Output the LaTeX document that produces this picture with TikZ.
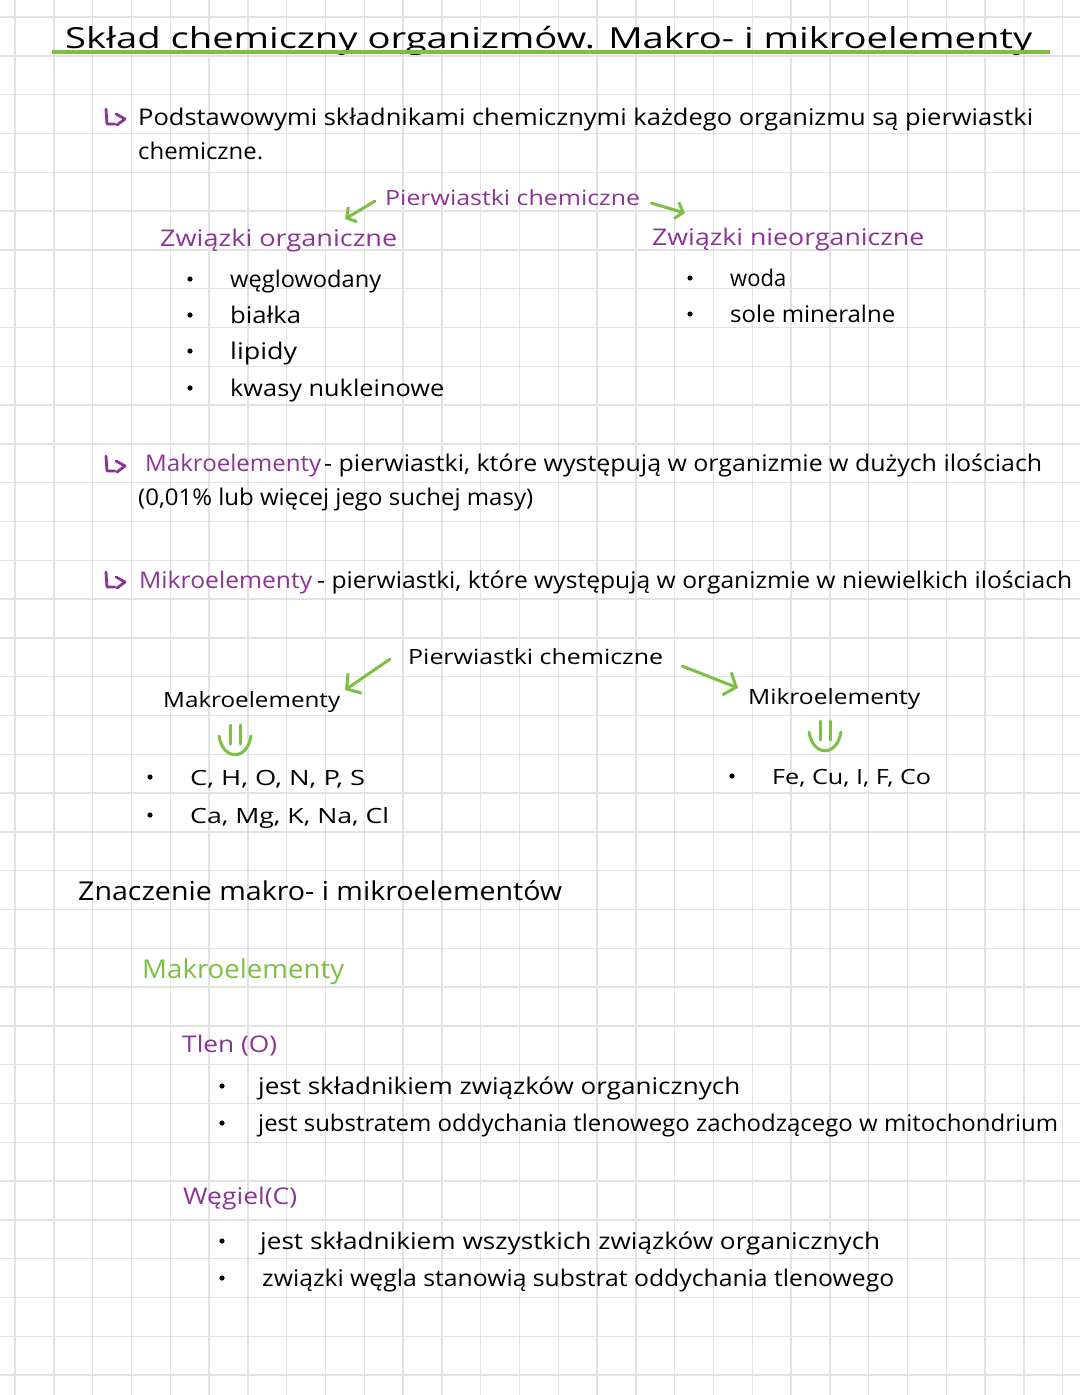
\documentclass[tikz,border=0pt]{standalone}
\usepackage{fontspec}
\setmainfont{Open Sans}
\usetikzlibrary{arrows.meta}

\definecolor{lilac}{RGB}{140,52,150}
\definecolor{leaf}{RGB}{124,192,67}
\definecolor{gridgray}{RGB}{226,226,226}

% stretch a line of text to a given width (in px), keep its height
\newcommand{\fitto}[2]{\resizebox{#1pt}{\height}{#2}}

\tikzset{
  txt/.style={anchor=base west,inner sep=0pt,yshift=-2pt,font=\fontsize{23}{27}\selectfont},
  small/.style={txt,font=\fontsize{21}{25}\selectfont},
  title/.style={txt,font=\fontsize{29}{33}\selectfont},
  head/.style={txt,font=\fontsize{26}{30}\selectfont},
  lil/.style={text=lilac},
  grarrow/.style={leaf,line width=3pt,line cap=round,line join=round,
    -{Straight Barb[length=7pt,width=17pt,line width=3pt]}},
  bigarrow/.style={grarrow,-{Straight Barb[length=10pt,width=24pt,line width=3pt]}},
  grline/.style={leaf,line width=3pt,line cap=round},
  hookline/.style={lilac,line width=2.8pt,line cap=round,line join=round}
}

\begin{document}
\begin{tikzpicture}[x=1pt,y=-1pt]

\useasboundingbox (0,0) rectangle (1080,1395);
\fill[white] (0,0) rectangle (1080,1395);

% squared paper
\foreach \i in {0,...,27}
  \draw[gridgray,line width=1.4pt] ({15+38.8*\i},0) -- ({15+38.8*\i},1395);
\foreach \j in {0,...,35}
  \draw[gridgray,line width=1.4pt] (0,{17+38.8*\j}) -- (1080,{17+38.8*\j});

% title
\node[title] (title) at (65,46) {\fitto{967}{Skład chemiczny organizmów. Makro- i mikroelementy}};
\draw[leaf,line width=3.5pt] (52,52) -- (1050,52);

% first paragraph
\begin{scope}[shift={(106,109)}]
\draw[hookline] (0,0) -- (1,15) -- (9,15) (10,5) -- (19,10) -- (11,16);
\end{scope}
\node[txt] (intro) at (138,123) {\fitto{895}{Podstawowymi składnikami chemicznymi każdego organizmu są pierwiastki}};
\node[txt] (intro2) at (138,157) {\fitto{125}{chemiczne.}};

% first tree
\node[small,lil] (pc1) at (385,203) {\fitto{255}{Pierwiastki chemiczne}};
\node[txt,lil] (org) at (160,244) {\fitto{237}{Związki organiczne}};
\node[txt,lil] (nieorg) at (652,243) {\fitto{272}{Związki nieorganiczne}};

\coordinate (a1) at (345,219);
\coordinate (a2) at (685,213);
\draw[grarrow] ([shift={(-10,4)}]pc1.west) -- (a1);
\draw[grarrow] ([shift={(11,6)}]pc1.east) -- (a2);

\foreach \y in {279,315,351,388}
  \fill (190,\y) circle (2.6);
\node[txt] (wegl) at (230,285) {\fitto{151}{węglowodany}};
\node[txt] (bial) at (230,321) {\fitto{71}{białka}};
\node[txt] (lip) at (230,357) {\fitto{67}{lipidy}};
\node[txt] (kwas) at (230,394) {\fitto{214}{kwasy nukleinowe}};

\foreach \y in {278,314}
  \fill (690,\y) circle (2.6);
\node[txt] (woda) at (730,284) {\fitto{56}{woda}};
\node[txt] (sole) at (730,320) {\fitto{165}{sole mineralne}};

% definitions
\begin{scope}[shift={(106,456)}]
\draw[hookline] (0,0) -- (1,15) -- (9,15) (10,5) -- (19,10) -- (11,16);
\end{scope}
\node[txt,lil] (makdef) at (145,469) {\fitto{176}{Makroelementy}};
\node[txt] (makdef2) at (324,469) {\fitto{718}{- pierwiastki, które występują w organizmie w dużych ilościach}};
\node[txt] (makdef3) at (138,503) {\fitto{395}{(0,01\% lub więcej jego suchej masy)}};

\begin{scope}[shift={(106,572)}]
\draw[hookline] (0,0) -- (1,15) -- (9,15) (10,5) -- (19,10) -- (11,16);
\end{scope}
\node[txt,lil] (mikdef) at (139,586) {\fitto{173}{Mikroelementy}};
\node[txt] (mikdef2) at (317,586) {\fitto{755}{- pierwiastki, które występują w organizmie w niewielkich ilościach}};

% second tree
\node[small] (pc2) at (408,662) {\fitto{255}{Pierwiastki chemiczne}};
\node[small] (mak) at (163,705) {\fitto{177}{Makroelementy}};
\node[small] (mik) at (748,702) {\fitto{172}{Mikroelementy}};

\coordinate (a3) at (345,690);
\coordinate (a4) at (738,688);
\draw[bigarrow] ([shift={(-18,3)}]pc2.west) -- (a3);
\draw[bigarrow] ([shift={(19,10)}]pc2.east) -- (a4);

\begin{scope}[shift={(235,725)}]
\draw[grline] (-5,0) -- (-5,19) (5,0) -- (5,19);
\draw[grline] (-16,11) .. controls (-12,36) and (12,36) .. (16,11);
\end{scope}
\begin{scope}[shift={(825,721)}]
\draw[grline] (-5,0) -- (-5,19) (5,0) -- (5,19);
\draw[grline] (-16,11) .. controls (-12,36) and (12,36) .. (16,11);
\end{scope}

\foreach \y in {777,815}
  \fill (150,\y) circle (2.6);
\node[small] (el1) at (190,783) {\fitto{175}{C, H, O, N, P, S}};
\node[small] (el2) at (190,821) {\fitto{199}{Ca, Mg, K, Na, Cl}};
\fill (732,776) circle (2.6);
\node[small] (el3) at (772,782) {\fitto{159}{Fe, Cu, I, F, Co}};

% meaning
\node[head] (znacz) at (78,898) {\fitto{484}{Znaczenie makro- i mikroelementów}};
\node[head,text=leaf] (makg) at (142,976) {\fitto{202}{Makroelementy}};

\node[txt,lil] (tlen) at (182,1050) {\fitto{95}{Tlen (O)}};
\foreach \y in {1086,1123}
  \fill (222,\y) circle (2.6);
\node[txt] (t1) at (258,1092) {\fitto{482}{jest składnikiem związków organicznych}};
\node[txt] (t2) at (258,1129) {\fitto{800}{jest substratem oddychania tlenowego zachodzącego w mitochondrium}};

\node[txt,lil] (wegiel) at (183,1202) {\fitto{114}{Węgiel(C)}};
\foreach \y in {1241,1278}
  \fill (222,\y) circle (2.6);
\node[txt] (w1) at (260,1247) {\fitto{620}{jest składnikiem wszystkich związków organicznych}};
\node[txt] (w2) at (262,1284) {\fitto{632}{związki węgla stanowią substrat oddychania tlenowego}};

\end{tikzpicture}
\end{document}
